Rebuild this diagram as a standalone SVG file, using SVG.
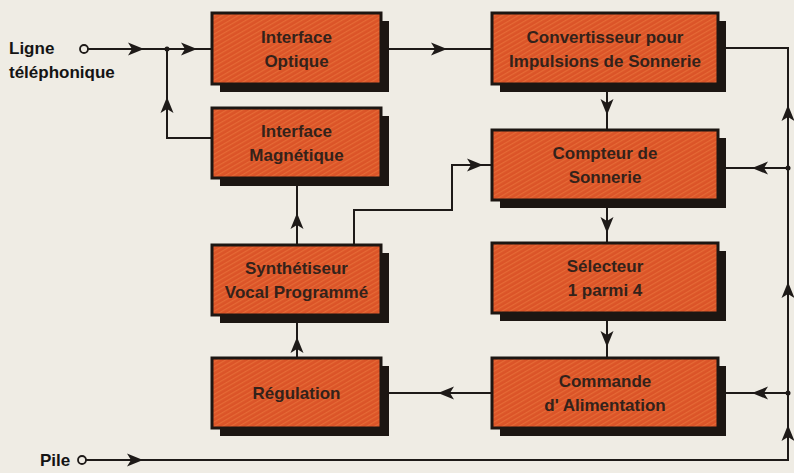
<svg xmlns="http://www.w3.org/2000/svg" xmlns:xlink="http://www.w3.org/1999/xlink" width="794" height="473" viewBox="0 0 794 473">
<style>
.bg{fill:#efece4}
.sh{fill:#1c1612}
.bx{fill:url(#hatch);stroke:#1c1612;stroke-width:3}
.t{font-family:"Liberation Sans",Arial,sans-serif;font-weight:bold;font-size:17px;fill:#33221a;text-anchor:middle}
.lab{font-family:"Liberation Sans",Arial,sans-serif;font-weight:bold;font-size:17px;fill:#141414}
.c{fill:none;stroke:#1e1a18;stroke-width:2}
.ah{fill:#1e1a18}
.term{fill:#efece4;stroke:#1e1a18;stroke-width:1.8}
.dot{fill:#1e1a18}
</style>
<defs>
<pattern id="hatch" patternUnits="userSpaceOnUse" width="4" height="4" patternTransform="rotate(-30)">
<rect width="4" height="4" fill="#db5428"/>
<rect width="4" height="1.2" fill="#e56a36"/>
</pattern>
<path id="ah" d="M0,0 L-16,-6.5 L-12,0 L-16,6.5 Z"/>
</defs>
<rect class="bg" x="0" y="0" width="794" height="473"/>

<g id="labels">
<text class="lab" x="9" y="54">Ligne</text>
<text class="lab" x="9" y="78">téléphonique</text>
<text class="lab" x="40" y="466">Pile</text>
</g>

<g id="connectors">
<path class="c" d="M88,49 H212"/>
<path class="c" d="M167,49 V138 H212"/>
<path class="c" d="M381,49 H492"/>
<path class="c" d="M86,460 H788 V48 H718"/>
<path class="c" d="M788,168 H718"/>
<path class="c" d="M788,393 H718"/>
<path class="c" d="M607,84 V130"/>
<path class="c" d="M607,200 V243"/>
<path class="c" d="M607,313 V358"/>
<path class="c" d="M492,393 H381"/>
<path class="c" d="M297,358 V315"/>
<path class="c" d="M297,245 V178"/>
<path class="c" d="M354,245 V210 H452 V165 H492"/>
<circle class="term" cx="84" cy="49" r="4"/>
<circle class="term" cx="82" cy="460" r="4"/>
<circle class="dot" cx="167" cy="49" r="2.5"/>
<circle class="dot" cx="788" cy="168" r="2.5"/>
<circle class="dot" cx="788" cy="393" r="2.5"/>
<use class="ah" xlink:href="#ah" transform="translate(144,49)"/>
<use class="ah" xlink:href="#ah" transform="translate(197,49)"/>
<use class="ah" xlink:href="#ah" transform="translate(167,97) rotate(-90)"/>
<use class="ah" xlink:href="#ah" transform="translate(447,49)"/>
<use class="ah" xlink:href="#ah" transform="translate(607,115) rotate(90)"/>
<use class="ah" xlink:href="#ah" transform="translate(788,105) rotate(-90)"/>
<use class="ah" xlink:href="#ah" transform="translate(752,168) rotate(180)"/>
<use class="ah" xlink:href="#ah" transform="translate(483,165)"/>
<use class="ah" xlink:href="#ah" transform="translate(607,233) rotate(90)"/>
<use class="ah" xlink:href="#ah" transform="translate(297,213) rotate(-90)"/>
<use class="ah" xlink:href="#ah" transform="translate(607,347) rotate(90)"/>
<use class="ah" xlink:href="#ah" transform="translate(438,393) rotate(180)"/>
<use class="ah" xlink:href="#ah" transform="translate(752,393) rotate(180)"/>
<use class="ah" xlink:href="#ah" transform="translate(788,282) rotate(-90)"/>
<use class="ah" xlink:href="#ah" transform="translate(788,425) rotate(-90)"/>
<use class="ah" xlink:href="#ah" transform="translate(297,337) rotate(-90)"/>
<use class="ah" xlink:href="#ah" transform="translate(143,460)"/>
</g>

<g id="interface-optique">
<rect class="sh" x="220" y="21" width="169" height="71"/>
<rect class="bx" x="212" y="13" width="169" height="71"/>
<text class="t" x="296.5" y="43">Interface</text>
<text class="t" x="296.5" y="67">Optique</text>
</g>
<g id="interface-magnetique">
<rect class="sh" x="220" y="116" width="169" height="70"/>
<rect class="bx" x="212" y="108" width="169" height="70"/>
<text class="t" x="296.5" y="137">Interface</text>
<text class="t" x="296.5" y="161">Magnétique</text>
</g>
<g id="synthetiseur">
<rect class="sh" x="220" y="253" width="169" height="70"/>
<rect class="bx" x="212" y="245" width="169" height="70"/>
<text class="t" x="296.5" y="274">Synthétiseur</text>
<text class="t" x="296.5" y="298">Vocal Programmé</text>
</g>
<g id="regulation">
<rect class="sh" x="220" y="366" width="169" height="70"/>
<rect class="bx" x="212" y="358" width="169" height="70"/>
<text class="t" x="296.5" y="399">Régulation</text>
</g>
<g id="convertisseur">
<rect class="sh" x="500" y="21" width="226" height="71"/>
<rect class="bx" x="492" y="13" width="226" height="71"/>
<text class="t" x="605" y="43">Convertisseur pour</text>
<text class="t" x="605" y="67">Impulsions de Sonnerie</text>
</g>
<g id="compteur">
<rect class="sh" x="500" y="138" width="226" height="70"/>
<rect class="bx" x="492" y="130" width="226" height="70"/>
<text class="t" x="605" y="159">Compteur de</text>
<text class="t" x="605" y="183">Sonnerie</text>
</g>
<g id="selecteur">
<rect class="sh" x="500" y="251" width="226" height="70"/>
<rect class="bx" x="492" y="243" width="226" height="70"/>
<text class="t" x="605" y="272">Sélecteur</text>
<text class="t" x="605" y="296">1 parmi 4</text>
</g>
<g id="commande">
<rect class="sh" x="500" y="366" width="226" height="70"/>
<rect class="bx" x="492" y="358" width="226" height="70"/>
<text class="t" x="605" y="387">Commande</text>
<text class="t" x="605" y="411">d' Alimentation</text>
</g>
</svg>
